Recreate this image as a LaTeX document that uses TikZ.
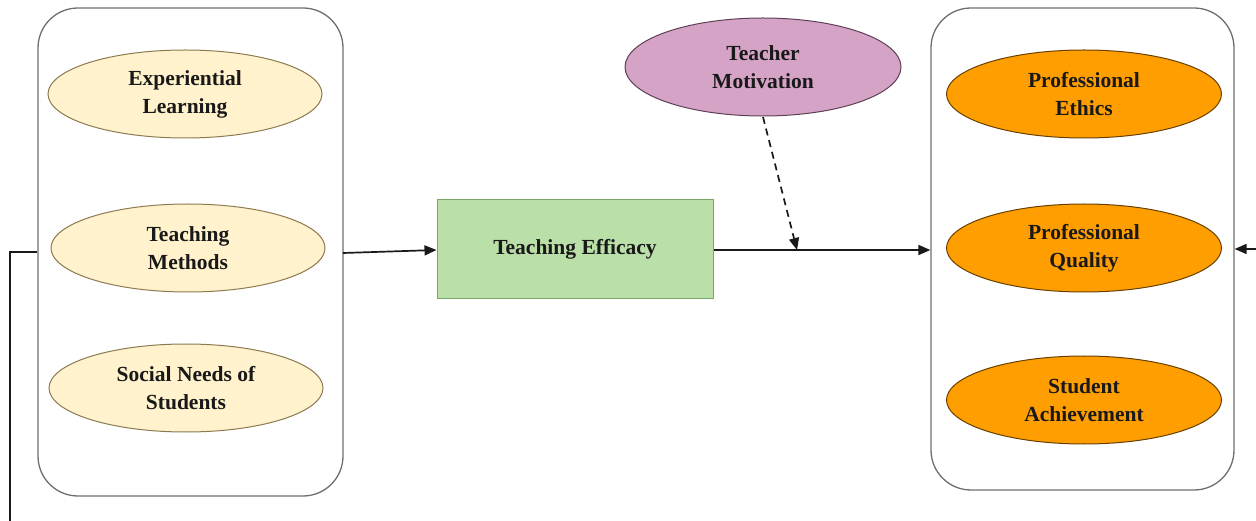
\documentclass[tikz,border=0pt]{standalone}
\usepackage{fontspec}
\setmainfont{Liberation Serif}
\usetikzlibrary{shapes.geometric,arrows.meta}
\definecolor{ylfill}{HTML}{FFF2CC}
\definecolor{ylline}{HTML}{8C7A50}
\definecolor{orfill}{HTML}{FF9E00}
\definecolor{orline}{HTML}{6A4000}
\definecolor{pufill}{HTML}{D4A3C6}
\definecolor{puline}{HTML}{5E4056}
\definecolor{grfill}{HTML}{BADFA8}
\definecolor{grline}{HTML}{7AA862}
\definecolor{boxline}{HTML}{6E6E6E}
\tikzset{
  x=1pt,y=-1pt,
  lbl/.style={font=\bfseries\fontsize{21.5}{28}\selectfont, align=center, text=black!90},
  yell/.style={ellipse, draw=ylline, fill=ylfill, line width=1pt, minimum width=274pt, minimum height=88pt, inner sep=0pt, lbl},
  oran/.style={ellipse, draw=orline, fill=orfill, line width=1pt, minimum width=275pt, minimum height=88pt, inner sep=0pt, lbl},
  grp/.style={draw=boxline, line width=1.3pt, rounded corners=40pt},
  conn/.style={draw=black!90, line width=1.7pt, -{Triangle[length=12pt,width=10pt]}},
}
\begin{document}
\begin{tikzpicture}
\useasboundingbox (0,0) rectangle (1256,521);
% groups
\node[grp, minimum width=305pt, minimum height=488pt] (L) at (190.5,252) {};
\node[grp, minimum width=303pt, minimum height=482pt] (R) at (1082.5,249) {};
% left ellipses
\node[yell] (e1) at (185,94) {Experiential\\Learning};
\node[yell] (e2) at (188,248) {Teaching\\Methods};
\node[yell] (e3) at (186,388) {Social Needs of\\Students};
% right ellipses
\node[oran] (o1) at (1084,94) {Professional\\Ethics};
\node[oran] (o2) at (1084,248) {Professional\\Quality};
\node[oran] (o3) at (1084,400) {Student\\Achievement};
% middle
\node[draw=grline, fill=grfill, line width=1pt, minimum width=276pt, minimum height=99pt, lbl] (te) at (575,249) {Teaching Efficacy};
\node[ellipse, draw=puline, fill=pufill, line width=1pt, minimum width=276pt, minimum height=98pt, inner sep=0pt, lbl] (tm) at (763,67) {Teacher\\Motivation};
% connectors
\coordinate (a1) at (343,253);
\draw[conn] (a1) -- (te.west |- 0,250);
\coordinate (mid) at (797,250);
\draw[conn] (te.east |- 0,250) -- (R.west |- 0,250);
\coordinate (ts) at (763,117);
\draw[draw=black!90, line width=1.7pt, dash pattern=on 7pt off 5pt, -{Triangle[length=12pt,width=10pt]}] (ts) -- (mid);
% feedback loop (cropped)
\coordinate (fb1) at (10,252);
\coordinate (fb2) at (10,521);
\draw[draw=black!90, line width=1.7pt] (L.west |- 0,252) -- (fb1) -- (fb2);
\coordinate (fr) at (1256,249);
\draw[conn] (fr) -- (R.east |- 0,249);
\end{tikzpicture}
\end{document}
